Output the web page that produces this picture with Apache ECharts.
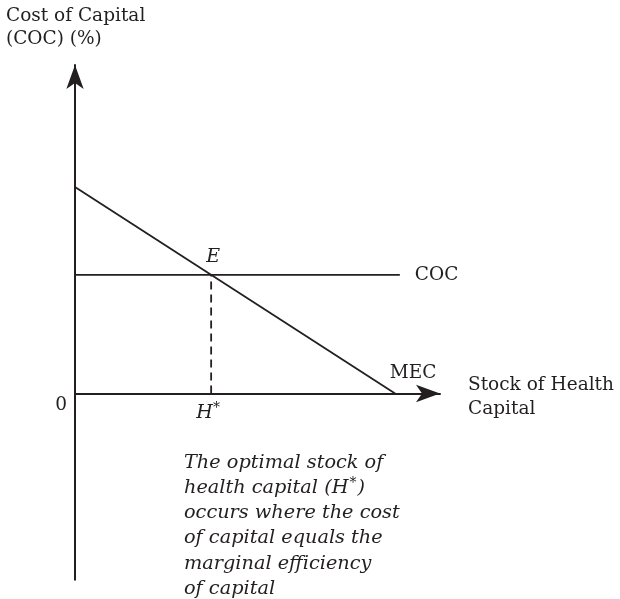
<!DOCTYPE html>
<html>
<head>
<meta charset="utf-8">
<script src="https://cdn.jsdelivr.net/npm/echarts@6/dist/echarts.min.js"></script>
<style>
  html, body { margin: 0; padding: 0; background: #fff; }
  #chart { width: 620px; height: 599px; }
</style>
</head>
<body>
<div id="chart"></div>
<script>
// curves in arbitrary units (x: stock of health capital, y: cost of capital)
const mecLine = [[0, 5.66], [8.77, 0]];
const cocLine = [[0, 3.25], [8.9, 3.25]];
const equilibrium = [3.73, 3.25];
const dashLine = [[3.73, 0], [3.73, 3.25]];
const yTitle = ['Cost of Capital', '(COC) (%)'];
const xTitle = ['Stock of Health', 'Capital'];
const note = [
  'The optimal stock of',
  'health capital (H*)',
  'occurs where the cost',
  'of capital equals the',
  'marginal efficiency',
  'of capital'
];

const ink = '#231f20';
const serif = '"DejaVu Serif", serif';
const fs = 18.5;

// raise the asterisk in the note
const noteRich = note.map(l => l.split('*').map(p => '{n|' + p + '}').join('{s|*}')).join('\n');

const ec = echarts.init(document.getElementById('chart'));
ec.setOption({
  animation: false,
  grid: { left: 75, top: 65, width: 365, height: 514.65 },
  xAxis: {
    type: 'value', min: 0, max: 10,
    axisLine: { onZero: true, lineStyle: { color: ink, width: 2 }, symbol: ['none', 'arrow'], symbolSize: [13, 24] },
    axisTick: { show: false }, axisLabel: { show: false }, splitLine: { show: false }
  },
  yAxis: {
    type: 'value', min: -5.1, max: 9,
    axisLine: { onZero: true, lineStyle: { color: ink, width: 2 }, symbol: ['none', 'arrow'], symbolSize: [13, 24] },
    axisTick: { show: false }, axisLabel: { show: false }, splitLine: { show: false }
  },
  series: [
    {
      name: 'MEC', type: 'line', data: mecLine, symbol: 'none',
      lineStyle: { color: ink, width: 1.8 }
    },
    {
      name: 'COC', type: 'line', data: cocLine, symbol: 'none',
      lineStyle: { color: ink, width: 1.8 },
      endLabel: { show: true, formatter: 'COC', distance: 15, fontFamily: serif, fontSize: fs, color: ink }
    },
    {
      name: 'dash', type: 'line', data: dashLine, symbol: 'none',
      lineStyle: { color: ink, width: 1.8, type: [8, 5] }
    },
    {
      name: 'labels', type: 'scatter', symbolSize: 0, silent: true,
      itemStyle: { opacity: 1, color: ink },
      data: [
        { value: equilibrium, label: { show: true, position: 'top', offset: [2, -3], formatter: 'E',
          fontFamily: serif, fontStyle: 'italic', fontSize: 19, color: ink } },
        { value: [equilibrium[0], 0], label: { show: true, position: 'bottom', offset: [-3, 3], formatter: '{a|H}{b|*}',
          rich: { a: { fontFamily: serif, fontStyle: 'italic', fontSize: 19, color: ink },
                  b: { fontFamily: serif, fontSize: 14, color: ink, padding: [0, 0, 9, 0] } } } },
        { value: mecLine[1], label: { show: true, position: 'top', offset: [18, -6], formatter: 'MEC',
          fontFamily: serif, fontSize: fs, color: ink } },
        { value: [0, 0], label: { show: true, position: 'left', offset: [-3, 12], formatter: '0',
          fontFamily: serif, fontSize: fs, color: ink } }
      ]
    }
  ],
  graphic: [
    {
      type: 'text', left: 6, top: 4,
      style: { text: yTitle.join('\n'), fontFamily: serif, fontSize: fs, lineHeight: 23.5, fill: ink }
    },
    {
      type: 'text', left: 468, top: 373,
      style: { text: xTitle.join('\n'), fontFamily: serif, fontSize: fs, lineHeight: 24, fill: ink }
    },
    {
      type: 'text', left: 184, top: 453,
      style: {
        text: noteRich, fill: ink,
        rich: {
          n: { fontFamily: serif, fontStyle: 'italic', fontSize: 19.3, lineHeight: 25.3, fill: ink },
          s: { fontFamily: serif, fontSize: 14, lineHeight: 25.3, fill: ink, padding: [0, 1, 9, 1] }
        }
      }
    }
  ]
});
</script>
</body>
</html>
